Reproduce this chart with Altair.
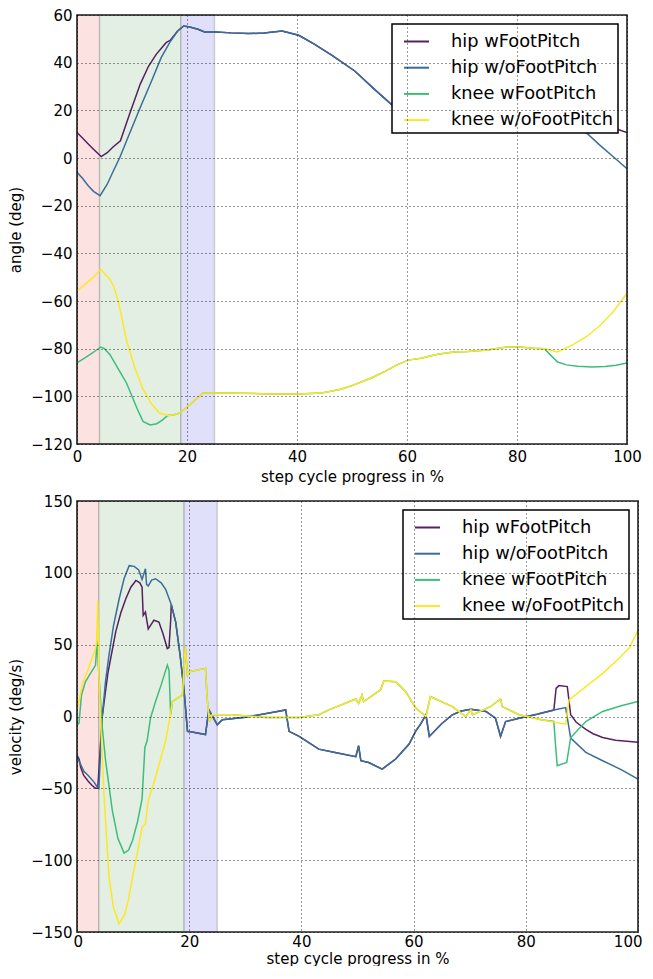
import altair as alt
import pandas as pd

SERIES = ["hip wFootPitch", "hip w/oFootPitch", "knee wFootPitch", "knee w/oFootPitch"]
COLORS = ["#56215f", "#3a6e99", "#3dbd7d", "#fde725"]
PHASES = ["a", "b", "c"]
SPAN_COLORS = ["#fde2e2", "#e3efe2", "#e0e0fa"]

X_TICKS = [0, 20, 40, 60, 80, 100]
ANG_TICKS = [-120, -100, -80, -60, -40, -20, 0, 20, 40, 60]
VEL_TICKS = [-150, -100, -50, 0, 50, 100, 150]

TOP_SPAN_START = [0, 4.1, 18.9]
TOP_SPAN_END = [4.1, 18.9, 25]
BOT_SPAN_START = [0, 3.9, 19.1]
BOT_SPAN_END = [3.9, 19.1, 25]

# ---------------- angle panel ----------------
ANG_HIP_WO_X = [0, 1, 2, 3, 4.2, 5.5, 6.5, 7.8, 9.5, 11.5, 13.5, 15.3, 17, 18.3, 19.4, 20.5, 22, 23.2, 25.3, 28,
                31.2, 34, 37.3, 40.3, 43, 46.3, 50.5, 54, 57.1, 60, 65, 70, 75, 80, 85, 88, 90, 92.6, 95, 97.5, 100]
ANG_HIP_WO_Y = [-6, -8.5, -11.5, -14, -15.8, -11, -6, 0.3, 10, 21.2, 32, 42.1, 49, 53.3, 55.4, 55, 54, 52.9, 52.9, 52.5,
                52.2, 52.4, 53.3, 51.5, 48, 43.2, 36.5, 29, 22.6, 19, 16.5, 15.5, 15, 15, 14.5, 13.5, 12.5, 10.6, 5.5, 0.5, -4.5]

ANG_HIP_W_HEAD_X = [0, 1, 2, 3, 4.4, 5.5, 6.5, 7.9, 9.5, 11.5, 13, 14.4, 16.2, 17]
ANG_HIP_W_HEAD_Y = [10.7, 8.4, 6, 3.7, 0.6, 2.2, 4.5, 7.2, 18, 31, 38.5, 43.5, 48.4, 49.5]
ANG_HIP_W_TAIL_X = [88, 91, 94, 97.3, 100]
ANG_HIP_W_TAIL_Y = [15, 14.5, 13.8, 12.8, 10.7]

ANG_KNEE_WO_X = [0, 1, 2, 3, 4.3, 5, 6, 6.7, 7.5, 9, 10.5, 12, 13.5, 15, 16.5, 17.5, 18.7, 20, 21.5, 22.9,
                 25, 30, 35, 40.3, 44.5, 48, 50, 53.5, 56, 58, 60.2, 62.5, 65.6, 68.5, 71, 74.6, 78.2, 80.5, 83, 85,
                 87.4, 90, 92.6, 95, 97.5, 100]
ANG_KNEE_WO_Y = [-55.5, -54, -52, -50, -46.7, -48.5, -51, -54, -60, -76.4, -88, -97, -103, -107, -108, -107.8, -107,
                 -104.5, -101.5, -98.6, -98.6, -98.7, -99, -99, -98.6, -97, -95.5, -92.3, -89.5, -87, -84.8, -84,
                 -82.3, -81.4, -81.2, -80.6, -79.3, -79.3, -79.8, -80, -81.4, -78.5, -75, -70.5, -64.5, -56.7]

ANG_KNEE_W_HEAD_X = [0, 1, 2, 3, 4.3, 5, 6, 7, 8, 9, 10, 11, 12, 13.3, 14.5, 15.5]
ANG_KNEE_W_HEAD_Y = [-86, -84.5, -83, -81.5, -79.3, -80, -82.5, -86.5, -90.5, -94.4, -100, -105.5, -110.5, -112,
                     -111.5, -110]
ANG_KNEE_W_TAIL_X = [86, 87.4, 89, 91, 93.7, 96, 98, 100]
ANG_KNEE_W_TAIL_Y = [-82.5, -85.6, -86.8, -87.4, -87.7, -87.5, -87, -86]

# ---------------- velocity panel ----------------
VEL_HIP_WO_X = [0, 0.6, 1.2, 2, 3, 3.7, 3.9, 4.5, 5.1, 5.7, 6.5, 7.5, 8.4, 9.3, 10.2, 11, 11.6, 12.2, 12.4, 12.7,
                13.3, 14, 15, 15.8, 16.8, 17.6, 18.4, 19.1, 19.7, 20.5, 22.9, 23.5, 25, 25.9, 30, 35, 37.2, 37.8,
                39.6, 43.1, 46, 49.7, 50.2, 50.6, 52, 54.4, 56.8, 59.2, 60.4, 61.3, 62.2, 62.8, 65, 66.9, 68.5,
                70.2, 72.9, 74.6, 75.5, 76.4, 78.8, 82, 85, 87.1, 88, 90.7, 93.7, 97, 100]
VEL_HIP_WO_Y = [-28, -33, -38, -41, -45.5, -49.5, -50, 0, 25, 42.5, 63, 81.6, 96, 105, 104.5, 102, 95.4, 102.8, 92,
                90.8, 95, 95.9, 93, 88.5, 78, 65.5, 42, 17.2, -10.3, -10.8, -12.6, 4.6, -5.7, -2.3, -0.5, 3, 4.6,
                -10.3, -13.8, -22.7, -25, -28, -20.4, -30.8, -32, -36.6, -29.6, -19.2, -10, -5, 1.2, -13.9, -5, 1.2,
                3.8, 5, 3.5, -1.2, -13.9, -3.5, -1.2, 1.5, 4.5, 6.2, -15, -25, -30.8, -37, -43.5]

VEL_HIP_W_HEAD_X = [0, 0.4, 0.65, 1.2, 2, 2.7, 3.3, 3.7, 4.5, 5.5, 6.9, 7.8, 8.7, 9.6, 10.5, 11.2, 11.6, 11.8,
                    12.2, 12.7, 13.2, 13.7, 14.6, 15.3, 16.1, 16.4, 16.7]
VEL_HIP_W_HEAD_Y = [-27, -30, -35.4, -41, -45, -48, -50, -50, 0, 30, 58.9, 72, 82, 90, 94.7, 93, 90, 70.4, 72.7,
                    61, 64, 67, 65.8, 58, 47.3, 48, 67]
VEL_HIP_W_TAIL_X = [85.4, 85.9, 87.4, 88, 89, 90.7, 92, 93.7, 96, 100]
VEL_HIP_W_TAIL_Y = [19.6, 21.5, 20.8, 1.2, -4, -9, -12, -14.6, -16.5, -18]

VEL_KNEE_WO_X = [0, 0.2, 1, 2, 3.3, 3.5, 3.7, 3.9, 4.3, 4.8, 5.7, 6.5, 7.5, 8.5, 9.2, 9.9, 10.8, 11.6, 12.2, 12.7,
                 14, 15, 15.8, 16.5, 17, 18.8, 19.3, 19.7, 20, 22.9, 23.2, 23.6, 24.1, 27.7, 33.6, 39.6, 43.1, 44.9,
                 49.7, 50.2, 50.8, 51.1, 54.1, 54.7, 56.8, 58.6, 60.4, 62.2, 63, 66.9, 69.3, 70.2, 70.5, 73.7, 75.5,
                 75.8, 78.8, 83, 87.1, 87.7, 90.7, 93.7, 96.6, 98.5, 100]
VEL_KNEE_WO_Y = [5, 8, 23, 33, 47.3, 52, 80.8, 28.9, -10, -54, -111.8, -133, -144.2, -138, -127, -111.8, -94, -77,
                 -74.8, -58.6, -42.4, -28, -16.9, -2, 10.4, 15, 48.5, 28.9, 31.2, 33.5, 12.7, -3.5, 1.2, 1.2, -0.7,
                 -0.7, 1.2, 4.6, 12.2, 9.2, 15, 10.4, 18.5, 24.7, 24.2, 17.3, 5.8, 0, 13.9, 6.9, 0, 4.6, 1.2, 6.9,
                 12.2, 6.9, 1.2, -2.5, -5.3, 11.5, 20.8, 30, 40.4, 48, 60]

VEL_KNEE_W_HEAD_X = [0, 0.36, 0.8, 1.5, 2.4, 3.3, 3.6, 3.9, 4.5, 5.1, 6.3, 7.3, 8.4, 9.2, 9.9, 10.8, 11.6, 12.1,
                     12.5, 13.1, 14, 15, 16.1, 16.4, 16.7]
VEL_KNEE_W_HEAD_Y = [-6, -4.6, 15, 24.1, 30, 35.6, 53, 28.9, -7.6, -30.8, -65.5, -85, -95.1, -93, -86.3, -73,
                     -57.4, -21.5, -16.9, -1.2, 10.4, 22, 35.8, 32.3, 1.2]
VEL_KNEE_W_TAIL_X = [85, 85.3, 85.6, 87.3, 88, 90.7, 93.7, 97, 100]
VEL_KNEE_W_TAIL_Y = [-3.5, -20, -34.3, -32, -14.6, -3.5, 3.5, 7.5, 10.4]


def splice(hx, hy, mx, my, lo, hi, tx, ty):
    """series that follows another one between lo and hi (the two traces coincide there)."""
    xs, ys = list(hx), list(hy)
    for a, b in zip(mx, my):
        if lo < a <= hi:
            xs.append(a)
            ys.append(b)
    return xs + list(tx), ys + list(ty)


def frame(series_xy):
    rows = []
    for name, (xs, ys) in zip(SERIES, series_xy):
        for i, (a, b) in enumerate(zip(xs, ys)):
            rows.append({"series": name, "x": a, "y": b, "i": i})
    return pd.DataFrame(rows)


ang_df = frame([
    splice(ANG_HIP_W_HEAD_X, ANG_HIP_W_HEAD_Y, ANG_HIP_WO_X, ANG_HIP_WO_Y, 17, 85, ANG_HIP_W_TAIL_X, ANG_HIP_W_TAIL_Y),
    (ANG_HIP_WO_X, ANG_HIP_WO_Y),
    splice(ANG_KNEE_W_HEAD_X, ANG_KNEE_W_HEAD_Y, ANG_KNEE_WO_X, ANG_KNEE_WO_Y, 15.5, 85, ANG_KNEE_W_TAIL_X, ANG_KNEE_W_TAIL_Y),
    (ANG_KNEE_WO_X, ANG_KNEE_WO_Y),
])
vel_df = frame([
    splice(VEL_HIP_W_HEAD_X, VEL_HIP_W_HEAD_Y, VEL_HIP_WO_X, VEL_HIP_WO_Y, 16.7, 85, VEL_HIP_W_TAIL_X, VEL_HIP_W_TAIL_Y),
    (VEL_HIP_WO_X, VEL_HIP_WO_Y),
    splice(VEL_KNEE_W_HEAD_X, VEL_KNEE_W_HEAD_Y, VEL_KNEE_WO_X, VEL_KNEE_WO_Y, 16.7, 83, VEL_KNEE_W_TAIL_X, VEL_KNEE_W_TAIL_Y),
    (VEL_KNEE_WO_X, VEL_KNEE_WO_Y),
])

FONT = "DejaVu Sans"


def axis(title, values, label_pad, title_pad, flush=False, flush_offset=0):
    return alt.Axis(title=title, values=values, format="d", grid=True, gridColor="black", gridDash=[1, 3],
                    gridOpacity=0.8, gridWidth=1, ticks=False, domain=False, labelFontSize=15, labelColor="black",
                    labelPadding=label_pad, labelFlush=flush, labelFlushOffset=flush_offset, labelOverlap=False,
                    titleFontSize=15, titleFontWeight="normal", titleColor="black", titlePadding=title_pad,
                    zindex=1, labelFont=FONT, titleFont=FONT)


def panel(df, s_start, s_end, ydom, w, h, xaxis, yaxis):
    xscale = alt.Scale(domain=[0, 100], nice=False, zero=False)
    yscale = alt.Scale(domain=ydom, nice=False, zero=False)
    legend = alt.Legend(title=None, orient="top-right", offset=9, fillColor="white", strokeColor="black",
                        padding=4, symbolType="stroke", symbolSize=625, symbolStrokeWidth=2, symbolOffset=7,
                        labelOffset=21, labelFontSize=17.8, labelFont=FONT, labelColor="black", rowPadding=3.2,
                        labelLimit=400, cornerRadius=0)
    span_df = pd.DataFrame({"start": s_start, "end": s_end, "phase": PHASES})
    spans = alt.Chart(span_df).mark_rect(stroke="black", strokeOpacity=0.15, strokeWidth=1.5).encode(
        x=alt.X("start:Q", scale=xscale, axis=xaxis),
        x2="end:Q",
        y=alt.value(0),
        y2=alt.value(h),
        fill=alt.Fill("phase:N", scale=alt.Scale(domain=PHASES, range=SPAN_COLORS), legend=None),
    )
    layers = [spans]
    for s in SERIES:
        layers.append(
            alt.Chart(df).transform_filter(alt.datum.series == s).mark_line(strokeWidth=1.5, clip=True).encode(
                x=alt.X("x:Q", scale=xscale, axis=xaxis),
                y=alt.Y("y:Q", scale=yscale, axis=yaxis),
                color=alt.Color("series:N", scale=alt.Scale(domain=SERIES, range=COLORS), legend=legend),
                order=alt.Order("i:Q"),
            )
        )
    border = alt.Chart(pd.DataFrame({"k": [0]})).mark_rect(fill=None, stroke="#222", strokeWidth=1.6).encode(
        x=alt.value(0), x2=alt.value(w), y=alt.value(0), y2=alt.value(h)
    )
    layers.append(border)
    return alt.layer(*layers).properties(width=w, height=h)


top_xaxis = axis("step cycle progress in %", X_TICKS, 5, 5)
top_yaxis = axis("angle (deg)", ANG_TICKS, 5, 7)
bottom_xaxis = axis("step cycle progress in %", X_TICKS, 2, 2, flush=True, flush_offset=4)
bottom_yaxis = axis("velocity (deg/s)", VEL_TICKS, 5, 7)

top = panel(ang_df, TOP_SPAN_START, TOP_SPAN_END, [-120, 60], 550, 429, top_xaxis, top_yaxis)
bottom = panel(vel_df, BOT_SPAN_START, BOT_SPAN_END, [-150, 150], 561, 431, bottom_xaxis, bottom_yaxis)

chart = alt.vconcat(top, bottom, spacing=10).resolve_scale(color="independent", fill="independent").properties(
    padding=0
).configure(font=FONT).configure_view(stroke=None).configure_legend(strokeWidth=1.5)

chart.save("out.html", embed_options={"renderer": "svg", "actions": False})
